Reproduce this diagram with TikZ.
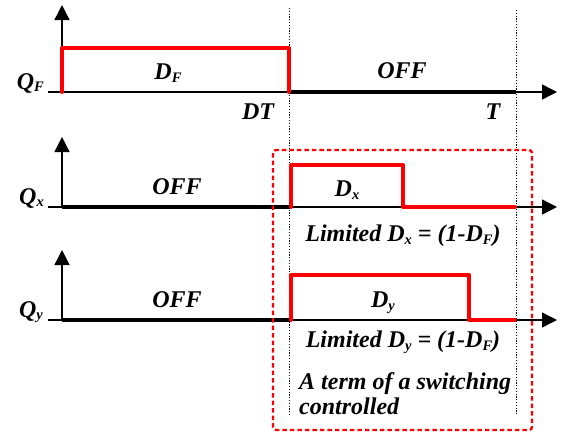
\documentclass[tikz,border=0pt]{standalone}
\usepackage{fontspec}
\setmainfont{Liberation Serif}
\usetikzlibrary{arrows.meta}
\newcommand\lowsub[1]{\raisebox{-0.25ex}{\fontsize{14.5}{14.5}\selectfont #1}}
\begin{document}
\begin{tikzpicture}[x=1pt,y=-1pt,
  lbl/.style={font=\fontsize{24}{25}\selectfont\bfseries\itshape, inner sep=0pt},
  axis/.style={line width=1.4pt, -{Triangle[length=15pt,width=15pt]}},
  offline/.style={line width=3.4pt},
  pulse/.style={draw=red, line width=4pt, line join=round, line cap=round},
  guide/.style={line width=1pt, dash pattern=on 1.2pt off 1.6pt},
  limitbox/.style={draw=red, line width=2.4pt, dash pattern=on 4.5pt off 3pt, rounded corners=3pt}]
\useasboundingbox (0,0) rectangle (565,434);

% time axes (one per switch)
\foreach \yb/\yt [count=\i] in {92/5, 207/137, 320/250} {
  \coordinate (h\i) at (48,\yb);
  \coordinate (ha\i) at (557,\yb);
  \coordinate (v\i) at (62,\yb);
  \coordinate (va\i) at (62,\yt);
  \draw[axis] (h\i) -- (ha\i);
  \draw[axis] (v\i) -- (va\i);
}

% guides at DT and T
\coordinate (dt1) at (289,8);  \coordinate (dt2) at (289,415);
\coordinate (t1)  at (516,10); \coordinate (t2)  at (516,415);
\draw[guide] (dt1) -- (dt2);
\draw[guide] (t1) -- (t2);

% OFF intervals
\draw[offline] (290,92) -- (516,92);
\draw[offline] (62,207) -- (290,207);
\draw[offline] (62,320) -- (290,320);

% pulses
\draw[pulse] (62,92) -- (62,48) -- (289,48) -- (289,92);
\draw[pulse] (291,207) -- (291,165) -- (403,165) -- (403,207) -- (515,207);
\draw[pulse] (291,320) -- (291,275) -- (469,275) -- (469,320) -- (515,320);

% limited region
\draw[limitbox] (273,150) rectangle (532,430);

% labels
\node[lbl, anchor=east] (qf) at (44,83) {Q\lowsub{F}};
\node[lbl, anchor=east] (qx) at (44,198) {Q\lowsub{x}};
\node[lbl, anchor=east] (qy) at (43,312) {Q\lowsub{y}};
\node[lbl] (df) at (168,73) {D\lowsub{F}};
\node[lbl] (dtl) at (258,112) {DT};
\node[lbl] (off1) at (402,71) {OFF};
\node[lbl] (tl) at (493,112) {T};
\node[lbl] (off2) at (177,187) {OFF};
\node[lbl] (dx) at (347,190) {D\lowsub{x}};
\node[lbl] (limx) at (403,236) {Limited D\lowsub{x} = (1-D\lowsub{F})};
\node[lbl] (off3) at (177,300) {OFF};
\node[lbl] (dy) at (383,303) {D\lowsub{y}};
\node[lbl] (limy) at (403,342) {Limited D\lowsub{y} = (1-D\lowsub{F})};
\node[lbl, anchor=north west, align=left] (term) at (299,372) {A term of a switching\\controlled};
\end{tikzpicture}
\end{document}
